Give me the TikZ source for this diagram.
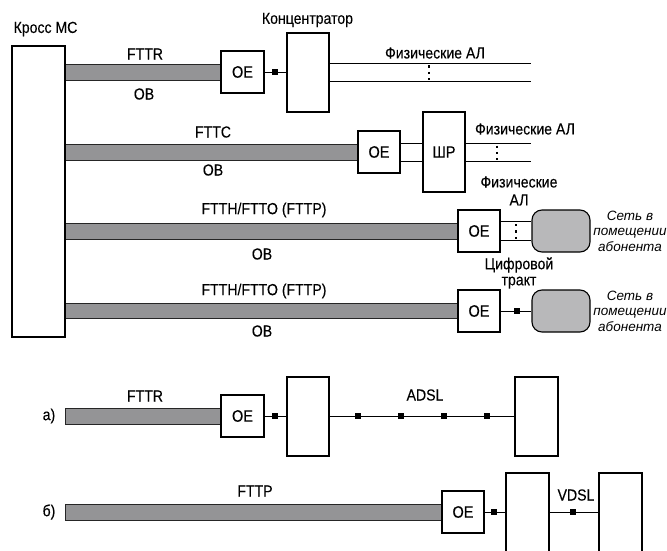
\documentclass[tikz,border=0pt]{standalone}
\usepackage{fontspec}
\setmainfont[FakeStretch=0.88,FakeBold=0.2]{Liberation Sans}
\newfontfamily\itfont[ItalicFont=Liberation Sans Italic]{Liberation Sans}
\usetikzlibrary{calc,backgrounds}
\definecolor{bargray}{RGB}{148,148,150}
\definecolor{cloudgray}{RGB}{184,184,186}
\begin{document}
\begin{tikzpicture}[x=1pt,y=-1pt,
  box/.style={draw,line width=1.1pt,fill=white,inner sep=0pt,font=\fontsize{16.5}{18}\selectfont},
  oebox/.style={box,minimum width=42pt,minimum height=42pt},
  tallbox/.style={box,minimum width=42pt,minimum height=79pt},
  cloud/.style={draw,line width=1.1pt,fill=cloudgray,rounded corners=10pt,minimum width=58pt,minimum height=42pt},
  bar/.style={draw=black!85,line width=0.9pt,fill=bargray},
  wire/.style={line width=0.9pt},
  sq/.style={fill=black,minimum size=6pt,inner sep=0pt},
  lbl/.style={inner sep=0pt,font=\fontsize{16}{18}\selectfont,align=center},
  itl/.style={inner sep=0pt,font=\itfont\itshape\fontsize{13.5}{15.5}\selectfont,align=center},
  vdots/.style={line width=2pt,dash pattern=on 2.4pt off 4pt}
]
\useasboundingbox (0,0) rectangle (667,551);
\clip (0,0) rectangle (667,551);

% boxes
\node[box,minimum width=53pt,minimum height=291pt] (cross) at (38.5,191.5) {};
\node[oebox,minimum width=43pt] (oe1) at (242.5,72) {ОЕ};
\node[tallbox] (conc) at (308,72.5) {};
\node[oebox] (oe2) at (379,152) {ОЕ};
\node[tallbox,minimum height=80pt] (shr) at (444,152) {ШР};
\node[oebox] (oe3) at (479,231) {ОЕ};
\node[cloud] (cl1) at (561,231) {};
\node[oebox] (oe4) at (479,311) {ОЕ};
\node[cloud] (cl2) at (561,311) {};
\node[oebox,minimum width=43pt] (oe5) at (242.5,416) {ОЕ};
\node[tallbox] (ba1) at (308,416.5) {};
\node[tallbox,minimum width=43pt] (ba2) at (536.5,416.5) {};
\node[oebox] (oe6) at (463,512) {ОЕ};
\node[tallbox,minimum width=43pt,minimum height=87pt] (bb1) at (527.5,516.5) {};
\node[tallbox,minimum width=43pt,minimum height=87pt] (bb2) at (620.5,516.5) {};

% fibre bars
\begin{pgfonlayer}{background}
\draw[bar] ($(cross.east |- oe1.west)+(0,-8)$) rectangle ($(oe1.west)+(0,8)$);
\draw[bar] ($(cross.east |- oe2.west)+(0,-8)$) rectangle ($(oe2.west)+(0,8)$);
\draw[bar] ($(cross.east |- oe3.west)+(0,-8)$) rectangle ($(oe3.west)+(0,8)$);
\draw[bar] ($(cross.east |- oe4.west)+(0,-8)$) rectangle ($(oe4.west)+(0,7.5)$);
\draw[bar] ($(cross.east |- oe5.west)+(0,-8)$) rectangle ($(oe5.west)+(0,8)$);
\draw[bar] ($(cross.east |- oe6.west)+(0,-8)$) rectangle ($(oe6.west)+(0,8)$);
\end{pgfonlayer}

% row 1
\draw[wire] (oe1.east) -- (oe1.east -| conc.west) node[pos=0.48,sq] (s1) {};
\coordinate (r1a) at (531,63);
\coordinate (r1b) at (531,81);
\draw[wire] (conc.east |- r1a) -- (r1a);
\draw[wire] (conc.east |- r1b) -- (r1b);
\coordinate (d1a) at (429,65.5);
\coordinate (d1b) at (429,80);
\draw[vdots] (d1a) -- (d1b);

% row 2
\draw[wire] ($(oe2.east)+(0,-9)$) -- ($(oe2.east -| shr.west)+(0,-9)$);
\draw[wire] ($(oe2.east)+(0,9)$) -- ($(oe2.east -| shr.west)+(0,9)$);
\coordinate (r2a) at (531,143);
\coordinate (r2b) at (531,161);
\draw[wire] (shr.east |- r2a) -- (r2a);
\draw[wire] (shr.east |- r2b) -- (r2b);
\coordinate (d2a) at (497,145.5);
\coordinate (d2b) at (497,160);
\draw[vdots] (d2a) -- (d2b);

% row 3
\draw[wire] ($(oe3.east)+(0,-9.5)$) -- ($(oe3.east -| cl1.west)+(0,-9.5)$);
\draw[wire] ($(oe3.east)+(0,9.5)$) -- ($(oe3.east -| cl1.west)+(0,9.5)$);
\coordinate (d3a) at (516,224);
\coordinate (d3b) at (516,239);
\draw[vdots] (d3a) -- (d3b);

% row 4
\draw[wire] (oe4.east) -- (oe4.east -| cl2.west) node[pos=0.53,sq] (s2) {};

% a)
\draw[wire] (oe5.east) -- (oe5.east -| ba1.west) node[pos=0.48,sq] (s3) {};
\draw[wire] (ba1.east |- oe5.east) -- (ba2.west |- oe5.east)
  node[pos=0.156,sq] (s4) {} node[pos=0.387,sq] (s5) {}
  node[pos=0.618,sq] (s6) {} node[pos=0.849,sq] (s7) {};

% b)
\draw[wire] (oe6.east) -- (oe6.east -| bb1.west) node[pos=0.45,sq] (s8) {};
\draw[wire] (bb1.east |- oe6.east) -- (bb2.west |- oe6.east) node[pos=0.48,sq] (s9) {};

% labels
\node[lbl] (tcross) at (45.5,29) {Кросс МС};
\node[lbl] (tconc) at (307.5,20) {Концентратор};
\node[lbl] (t1) at (145,54) {FTTR};
\node[lbl] (t1b) at (144,94) {ОВ};
\node[lbl] (tfa1) at (435,53) {Физические АЛ};
\node[lbl] (t2) at (213,132) {FTTC};
\node[lbl] (t2b) at (213,170) {ОВ};
\node[lbl] (tfa2) at (525,129) {Физические АЛ};
\node[lbl,font=\fontsize{16}{18}\selectfont] (tfa3) at (519,191) {Физические\\АЛ};
\node[lbl] (t3) at (264,210) {FTTH/FTTO (FTTP)};
\node[lbl] (t3b) at (262,254) {ОВ};
\node[itl] (tnet1) at (630,231) {Сеть в\\помещении\\абонента};
\node[lbl,font=\fontsize{16}{16}\selectfont] (tdig) at (519,273) {Цифровой\\тракт};
\node[lbl] (t4) at (264,291) {FTTH/FTTO (FTTP)};
\node[lbl] (t4b) at (262,331) {ОВ};
\node[itl] (tnet2) at (630,311) {Сеть в\\помещении\\абонента};
\node[lbl] (ta) at (49,416) {а)};
\node[lbl] (t5) at (145,396) {FTTR};
\node[lbl] (tadsl) at (425,395) {ADSL};
\node[lbl] (tb) at (49,512) {б)};
\node[lbl] (t6) at (255,491) {FTTP};
\node[lbl] (tvdsl) at (576,495) {VDSL};
\end{tikzpicture}
\end{document}
